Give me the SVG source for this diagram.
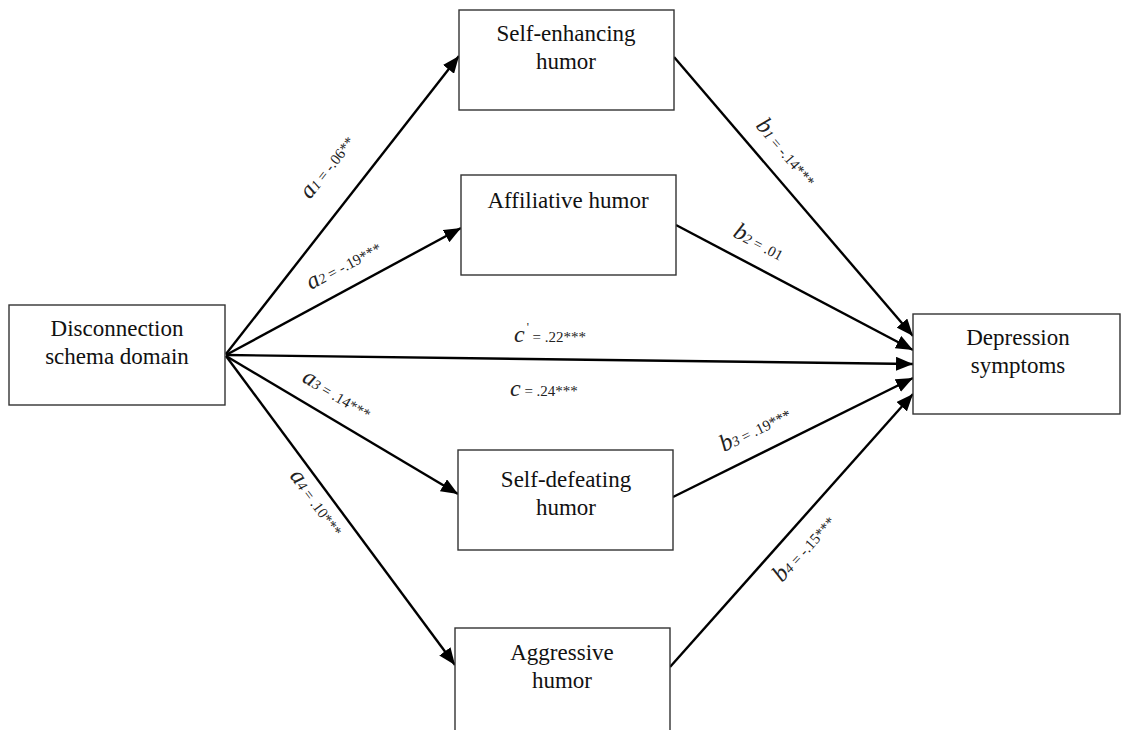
<svg xmlns="http://www.w3.org/2000/svg" width="1122" height="730" viewBox="0 0 1122 730">
<style>
.box{fill:#fff;stroke:#333;stroke-width:1.4}
.nt{font-family:"Liberation Serif","Times New Roman",serif;font-size:23px;fill:#111;text-anchor:middle}
.lb{font-family:"Liberation Serif","Times New Roman",serif;font-size:15px;fill:#222}
.v{font-style:italic;font-size:24px}
.s{font-style:italic;font-size:14px}
.cn{stroke:#000;stroke-width:2.4;fill:none;marker-end:url(#ah)}
</style>
<defs>
<marker id="ah" markerUnits="userSpaceOnUse" markerWidth="18" markerHeight="14" refX="17" refY="7" orient="auto">
<path d="M0,0 L17,7 L0,14 z" fill="#000"/>
</marker>
</defs>
<g id="connectors">
<line class="cn" x1="226" y1="354" x2="459" y2="56"/>
<line class="cn" x1="226" y1="355" x2="461" y2="228"/>
<line class="cn" x1="226" y1="355" x2="913" y2="364"/>
<line class="cn" x1="226" y1="356" x2="458" y2="494"/>
<line class="cn" x1="226" y1="356" x2="455" y2="665"/>
<line class="cn" x1="674" y1="57" x2="913" y2="336"/>
<line class="cn" x1="676" y1="225" x2="913" y2="350"/>
<line class="cn" x1="673" y1="497" x2="913" y2="378"/>
<line class="cn" x1="670" y1="667" x2="913" y2="394"/>
</g>
<g id="labels">
<text class="lb" transform="translate(310,200) rotate(-52)"><tspan class="v">a</tspan><tspan class="s">1</tspan> = -.06**</text>
<text class="lb" transform="translate(311,290) rotate(-28.3)"><tspan class="v">a</tspan><tspan class="s">2</tspan> = -.19***</text>
<text class="lb" x="514" y="342"><tspan class="v">c</tspan><tspan font-size="12" dx="2" dy="-11">'</tspan><tspan dy="11"> = .22***</tspan></text>
<text class="lb" x="510" y="396"><tspan class="v">c</tspan> = .24***</text>
<text class="lb" transform="translate(301,381) rotate(30.6)"><tspan class="v">a</tspan><tspan class="s">3</tspan> = .14***</text>
<text class="lb" transform="translate(289,476) rotate(53.4)"><tspan class="v">a</tspan><tspan class="s">4</tspan> = .10***</text>
<text class="lb" transform="translate(755,126) rotate(49.3)"><tspan class="v">b</tspan><tspan class="s">1</tspan> = -.14***</text>
<text class="lb" transform="translate(732,236) rotate(27.8)"><tspan class="v">b</tspan><tspan class="s">2</tspan> = .01</text>
<text class="lb" transform="translate(724,452) rotate(-26.4)"><tspan class="v">b</tspan><tspan class="s">3</tspan> = .19***</text>
<text class="lb" transform="translate(782,583) rotate(-48.2)"><tspan class="v">b</tspan><tspan class="s">4</tspan> = -.15***</text>
</g>
<g id="disconnection">
<rect class="box" x="9" y="305" width="216" height="100"/>
<text class="nt" x="117" y="336">Disconnection</text>
<text class="nt" x="117" y="364">schema domain</text>
</g>
<g id="self-enhancing">
<rect class="box" x="459" y="10" width="215" height="100"/>
<text class="nt" x="566" y="41">Self-enhancing</text>
<text class="nt" x="566" y="69">humor</text>
</g>
<g id="affiliative">
<rect class="box" x="461" y="175" width="215" height="100"/>
<text class="nt" x="568" y="208">Affiliative humor</text>
</g>
<g id="self-defeating">
<rect class="box" x="458" y="450" width="215" height="100"/>
<text class="nt" x="566" y="487">Self-defeating</text>
<text class="nt" x="566" y="515">humor</text>
</g>
<g id="aggressive">
<rect class="box" x="455" y="628" width="215" height="106"/>
<text class="nt" x="562" y="660">Aggressive</text>
<text class="nt" x="562" y="688">humor</text>
</g>
<g id="depression">
<rect class="box" x="913" y="314" width="207" height="100"/>
<text class="nt" x="1018" y="345">Depression</text>
<text class="nt" x="1018" y="373">symptoms</text>
</g>
</svg>
